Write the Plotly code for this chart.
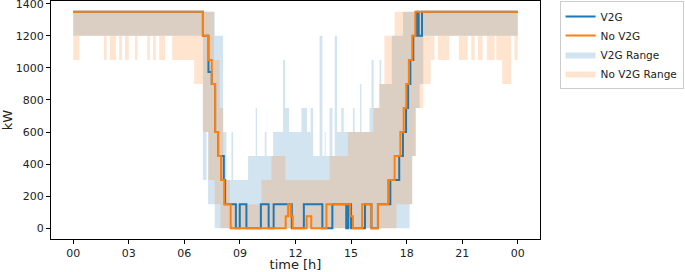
import numpy as np
import plotly.graph_objects as go

# ---------------- data (hours, kW), step functions: value holds from t[i] to t[i+1]
v2g_t = [0, 7.0, 7.3, 7.48, 7.66, 7.82, 8.13, 8.2, 8.78, 8.99, 9.35, 10.13, 10.55, 10.82,
         11.8, 12.45, 13.45, 13.99, 14.74, 14.85, 15.0, 15.75, 16.1, 16.45, 17.12, 17.6,
         17.8, 17.97, 18.08, 18.2, 18.36, 18.55, 18.65, 18.83, 24]
v2g_v = [1350, 1200, 975, 900, 600, 450, 300, 150, 0, 150, 0, 150, 0, 150,
         0, 150, 0, 150, 0, 150, 0, 150, 0, 150, 300, 450,
         600, 750, 900, 1050, 1200, 1350, 1200, 1350, 1350]

nov2g_t = [0, 7.0, 7.28, 7.48, 7.66, 7.82, 7.98, 8.15, 8.5, 11.47, 11.6, 11.75, 11.85,
           12.6, 12.85, 13.67, 14.95, 15.1, 15.6, 16.1, 16.45, 17.0, 17.35, 17.66, 17.84,
           17.98, 18.12, 18.3, 18.47, 24]
nov2g_v = [1350, 1200, 1050, 900, 600, 450, 300, 150, 0, 75, 150, 75, 0,
           75, 0, 150, 75, 0, 150, 0, 150, 300, 450, 600, 750,
           900, 1050, 1200, 1350, 1350]

v2g_lo_t = [0, 7.0, 7.2, 7.28, 7.64, 18.16, 18.3, 18.5, 18.7, 18.9, 24]
v2g_lo_v = [1200, 300, 600, 150, 0, 150, 450, 750, 900, 1200, 1200]

v2g_hi_t = [0, 7.64, 8.09, 8.27, 8.54, 8.63, 9.44, 9.85, 9.92, 10.34, 10.43, 10.79, 11.33,
            11.44, 11.65, 12.32, 12.62, 12.82, 12.95, 13.3, 13.45, 13.58, 13.63, 13.84,
            13.99, 14.12, 14.24, 14.47, 14.6, 15.1, 15.19, 15.48, 15.56, 16.0, 16.1, 16.22,
            16.54, 16.63, 17.2, 17.8, 24]
v2g_hi_v = [1350, 1200, 600, 300, 600, 300, 450, 750, 450, 600, 450, 600, 1050,
            750, 600, 750, 600, 750, 450, 1200, 450, 600, 450, 750,
            450, 1200, 600, 750, 600, 750, 600, 900, 600, 750, 1050, 750,
            1050, 900, 1200, 1350, 1350]

nov2g_lo_t = [0, 0.33, 1.66, 1.8, 1.98, 2.3, 2.48, 2.63, 2.8, 3.0, 3.33, 3.47, 4.0, 4.14,
              4.31, 4.46, 4.64, 4.96, 5.34, 6.53, 7.0, 7.3, 7.64, 7.95, 17.45, 18.3, 18.47,
              18.9, 19.3, 19.5, 19.69, 20.3, 20.82, 21.3, 21.49, 21.67, 21.85, 22.1, 22.33,
              22.75, 22.84, 23.16, 23.65, 23.82, 24]
nov2g_lo_v = [1050, 1200, 1050, 1200, 1050, 1200, 1050, 1200, 1050, 1200, 1050, 1200, 1050, 1200,
              1050, 1200, 1050, 1200, 1050, 900, 600, 300, 150, 0, 150, 450, 750,
              900, 1050, 1200, 1050, 1200, 1050, 1200, 1050, 1200, 1050, 1200, 1050,
              1200, 1050, 900, 1200, 1050, 1050]

nov2g_hi_t = [0, 7.6, 7.9, 8.1, 8.45, 10.16, 10.7, 11.45, 13.84, 14.83, 16.2, 16.5, 16.8, 17.35, 24]
nov2g_hi_v = [1350, 1050, 750, 300, 150, 300, 450, 300, 450, 600, 750, 900, 1200, 1350, 1350]

x_tick_vals = [0, 3, 6, 9, 12, 15, 18, 21, 24]
x_tick_text = ["00", "03", "06", "09", "12", "15", "18", "21", "00"]
y_tick_vals = [0, 200, 400, 600, 800, 1000, 1200, 1400]

for a, b in [(v2g_t, v2g_v), (nov2g_t, nov2g_v), (v2g_lo_t, v2g_lo_v), (v2g_hi_t, v2g_hi_v),
             (nov2g_lo_t, nov2g_lo_v), (nov2g_hi_t, nov2g_hi_v)]:
    assert len(a) == len(b), (len(a), len(b))


def step_eval(t, v, grid):
    t = np.asarray(t, float)
    v = np.asarray(v, float)
    idx = np.searchsorted(t, grid, side="right") - 1
    idx = np.clip(idx, 0, len(v) - 1)
    return v[idx]


C0 = "#1f77b4"
C1 = "#ff7f0e"
FONT = "DejaVu Sans"

fig = go.Figure()


def add_range(lo_t, lo_v, hi_t, hi_v, color_rgba, name, rank):
    grid = np.unique(np.concatenate([lo_t, hi_t]))
    lo = step_eval(lo_t, lo_v, grid)
    hi = step_eval(hi_t, hi_v, grid)
    fig.add_trace(go.Scatter(x=grid, y=lo, mode="lines", line=dict(width=0, shape="hv"),
                             showlegend=False, hoverinfo="skip"))
    fig.add_trace(go.Scatter(x=grid, y=hi, mode="lines", line=dict(width=0, shape="hv"),
                             fill="tonexty", fillcolor=color_rgba, name=name,
                             legendrank=rank))


add_range(v2g_lo_t, v2g_lo_v, v2g_hi_t, v2g_hi_v, "rgba(31,119,180,0.2)", "V2G Range", 3)
add_range(nov2g_lo_t, nov2g_lo_v, nov2g_hi_t, nov2g_hi_v, "rgba(255,127,14,0.2)", "No V2G Range", 4)

fig.add_trace(go.Scatter(x=v2g_t, y=v2g_v, mode="lines", name="V2G",
                         line=dict(color=C0, width=2, shape="hv"), legendrank=1))
fig.add_trace(go.Scatter(x=nov2g_t, y=nov2g_v, mode="lines", name="No V2G",
                         line=dict(color=C1, width=2, shape="hv"), legendrank=2))

fig.update_layout(
    width=685, height=272,
    margin=dict(l=51, r=145, t=1, b=33),
    paper_bgcolor="white", plot_bgcolor="white",
    font=dict(family=FONT, size=11, color="#222"),
    legend=dict(x=1.04, y=1.0, xanchor="left", yanchor="top", traceorder="normal",
                bordercolor="#cccccc", borderwidth=1, bgcolor="white",
                font=dict(size=10.5), itemwidth=30, tracegroupgap=0),
)
fig.update_xaxes(range=[-1.2, 25.2], tickvals=x_tick_vals, ticktext=x_tick_text,
                 ticks="outside", ticklen=4, tickcolor="black", showline=True,
                 linecolor="black", linewidth=1, mirror=True, showgrid=False,
                 zeroline=False, title=dict(text="time [h]", standoff=6),
                 automargin=False, ticklabeloverflow="allow")
fig.update_yaxes(range=[-67.5, 1417.5], tickvals=y_tick_vals,
                 ticks="outside", ticklen=4, tickcolor="black", showline=True,
                 linecolor="black", linewidth=1, mirror=True, showgrid=False,
                 zeroline=False, title=dict(text="kW", standoff=6),
                 automargin=False, ticklabeloverflow="allow")

fig.write_html("out.html", config={"displayModeBar": False},
               post_script="document.body.style.margin='0';document.body.style.padding='0';")
